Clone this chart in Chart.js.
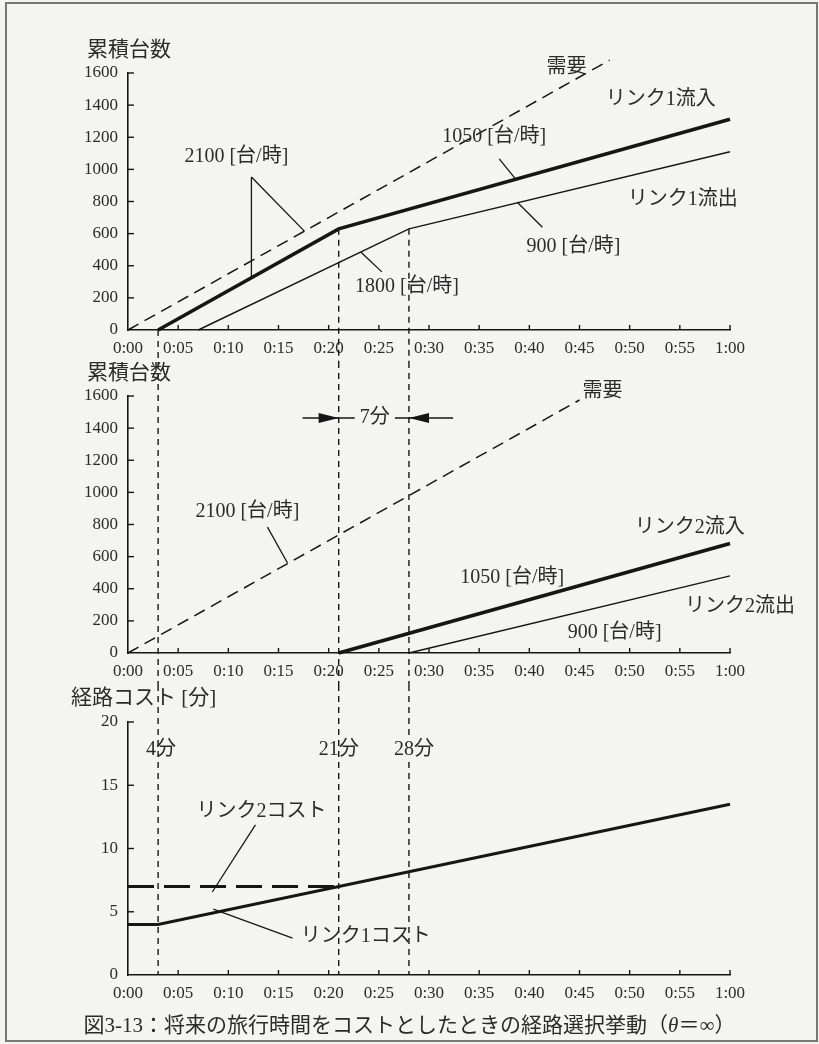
<!DOCTYPE html>
<html lang="ja">
<head>
<meta charset="utf-8">
<title>経路選択挙動</title>
<script src="https://cdn.jsdelivr.net/npm/chart.js@4/dist/chart.umd.min.js"></script>
<style>
  html, body { margin: 0; padding: 0; background: #f4f4f3; }
  #wrap { position: relative; width: 819px; height: 1044px; overflow: hidden; }
  #frame { position: absolute; left: 5px; top: 2px; width: 813px; height: 1040px;
           border: 2px solid #777; box-sizing: border-box; }
  .pane { position: absolute; left: 0; width: 819px; }
  .pane canvas { display: block; }
  #caption { position: absolute; left: 0; top: 1012px; width: 819px; text-align: center;
             font: 21px "Liberation Serif", "Noto Sans CJK JP", serif; line-height: 26px; color: #2b2b2b; }
</style>
</head>
<body>
<div id="wrap">
  <div id="frame"></div>
  <div class="pane" style="top:0px;height:362px"><canvas id="c1" width="819" height="362"></canvas></div>
  <div class="pane" style="top:362px;height:323px"><canvas id="c2" width="819" height="323"></canvas></div>
  <div class="pane" style="top:685px;height:359px"><canvas id="c3" width="819" height="359"></canvas></div>
  <div id="caption">図3-13：将来の旅行時間をコストとしたときの経路選択挙動（<i>θ</i>＝∞）</div>
</div>
<script>
// ---- data (time in minutes after 0:00) ----
const timeTicks = [0, 5, 10, 15, 20, 25, 30, 35, 40, 45, 50, 55, 60];

// upper panel: link 1 cumulative counts
const demandTimes1 = [0, 48];
const demandCounts1 = [0, 1680];
const link1InTimes = [3, 21, 60];
const link1InCounts = [0, 630, 1312];
const link1OutTimes = [7, 28, 60];
const link1OutCounts = [0, 630, 1110];

// middle panel: link 2 cumulative counts
const demandTimes2 = [0, 45];
const demandCounts2 = [0, 1575];
const link2InTimes = [21, 60];
const link2InCounts = [0, 682];
const link2OutTimes = [28, 60];
const link2OutCounts = [0, 480];

// lower panel: route costs [min]
const link1CostTimes = [0, 3, 60];
const link1CostValues = [4, 4, 13.5];
const link2CostTimes = [0, 21];
const link2CostValues = [7, 7];

// switching instants marked across the panels
const markerTimes = [3, 21, 28];
const markerStartCount = [null, 630, 630];

// ---- styling ----
const INK = '#161616';
const TEXT = '#2b2b2b';
const PAPER = '#f4f4f3';
const SERIF = '"Liberation Serif", "DejaVu Serif", serif';
const MIXED = '"Liberation Serif", "Noto Sans CJK JP", serif';

const pts = (ts, vs) => ts.map((t, i) => ({ x: t, y: vs[i] }));
const fmtTime = v => Math.floor(v / 60) + ':' + String(v % 60).padStart(2, '0');

function lineSet(ts, vs, width, dash) {
  return {
    data: pts(ts, vs),
    borderColor: INK,
    borderWidth: width,
    borderDash: dash || [],
    pointRadius: 0,
    tension: 0,
    fill: false,
    clip: 30,
    borderCapStyle: 'butt'
  };
}

// inward ticks, guides, leader lines and annotations
const overlay = {
  id: 'overlay',
  afterDatasetsDraw(chart, args, o) {
    const { ctx, chartArea: ca, scales: { x, y } } = chart;
    const H = chart.height;
    const px = t => x.getPixelForValue(t);
    const py = v => y.getPixelForValue(v);
    const seg = (x1, y1, x2, y2) => { ctx.beginPath(); ctx.moveTo(x1, y1); ctx.lineTo(x2, y2); ctx.stroke(); };
    ctx.save();
    ctx.strokeStyle = INK;
    ctx.lineWidth = 1.4;
    x.ticks.forEach(tk => {
      if (tk.value === x.min) return;
      const X = px(tk.value);
      seg(X, ca.bottom, X, ca.bottom - 5);
    });
    y.ticks.forEach(tk => {
      if (tk.value === y.min) return;
      const Y = py(tk.value);
      seg(ca.left, Y, ca.left + 6, Y);
    });

    // vertical guides at the switching instants
    ctx.setLineDash([6, 5]);
    ctx.lineWidth = 1.4;
    (o.guides || []).forEach(g => {
      const X = px(g.t);
      const y0 = g.from === 'top' ? 0 : g.from === 'axis' ? ca.bottom : py(g.from);
      const y1 = g.to === 'axis' ? ca.bottom : H;
      seg(X, y0, X, y1);
    });
    ctx.setLineDash([]);

    // leader lines
    ctx.lineWidth = 1.3;
    (o.leaders || []).forEach(s => seg(px(s[0]), py(s[1]), px(s[2]), py(s[3])));

    // dimension arrows
    (o.arrows || []).forEach(a => {
      const Y = py(a.v);
      ctx.lineWidth = 1.4;
      seg(px(a.t0), Y, px(a.t1), Y);
      const tip = px(a.tip), base = px(a.base);
      ctx.beginPath();
      ctx.moveTo(tip, Y);
      ctx.lineTo(base, Y - 5);
      ctx.lineTo(base, Y + 5);
      ctx.closePath();
      ctx.fillStyle = INK;
      ctx.fill();
    });

    // annotations
    ctx.textAlign = 'center';
    ctx.textBaseline = 'middle';
    ctx.font = '20px ' + MIXED;
    (o.labels || []).forEach(l => {
      const X = px(l.t), Y = py(l.v);
      if (l.clear) {
        const w = ctx.measureText(l.text).width;
        ctx.fillStyle = PAPER;
        ctx.fillRect(X - w / 2 - 1, Y - 11, w + 2, 22);
      }
      ctx.fillStyle = TEXT;
      ctx.fillText(l.text, X, Y);
    });

    // axis title above the value axis
    if (o.title) {
      ctx.fillStyle = TEXT;
      ctx.textAlign = 'left';
      ctx.font = '21px ' + MIXED;
      ctx.fillText(o.title.text, ca.left + o.title.dx, ca.top + o.title.dy);
    }
    ctx.restore();
  }
};

function makeChart(id, datasets, yMin, yMax, yStep, pad, overlayOpts) {
  return new Chart(document.getElementById(id), {
    type: 'line',
    data: { datasets },
    options: {
      responsive: false,
      animation: false,
      events: [],
      layout: { padding: pad },
      plugins: { legend: { display: false }, tooltip: { enabled: false }, overlay: overlayOpts },
      scales: {
        x: {
          type: 'linear', min: 0, max: 60,
          afterBuildTicks: s => { s.ticks = timeTicks.map(v => ({ value: v })); },
          ticks: { callback: v => fmtTime(v), font: { family: SERIF, size: 17 }, color: TEXT,
                   padding: 8, maxRotation: 0, autoSkip: false },
          grid: { drawOnChartArea: false, drawTicks: false },
          border: { display: true, color: INK, width: 1.6 },
          afterFit: s => { s.height = 32; }
        },
        y: {
          min: yMin, max: yMax,
          ticks: { stepSize: yStep, callback: v => String(v), font: { family: SERIF, size: 17 },
                   color: TEXT, padding: 10 },
          grid: { drawOnChartArea: false, drawTicks: false },
          border: { display: true, color: INK, width: 1.6 },
          afterFit: s => { s.width = 60; }
        }
      }
    },
    plugins: [overlay]
  });
}

// upper panel
makeChart('c1', [
  lineSet(demandTimes1, demandCounts1, 1.5, [12, 7]),
  lineSet(link1InTimes, link1InCounts, 3.6),
  lineSet(link1OutTimes, link1OutCounts, 1.4)
], 0, 1600, 200, { left: 68, right: 89, top: 73, bottom: 0 }, {
  title: { text: '累積台数', dx: -41, dy: -23 },
  guides: [
    { t: markerTimes[0], from: 'axis', to: 'bottom' },
    { t: markerTimes[1], from: markerStartCount[1], to: 'bottom' },
    { t: markerTimes[2], from: markerStartCount[2], to: 'bottom' }
  ],
  leaders: [
    [37.0, 1065, 38.6, 942],
    [41.3, 640, 38.8, 795],
    [12.3, 953, 12.3, 326],
    [12.3, 953, 17.6, 614],
    [23.2, 486, 25.3, 362]
  ],
  labels: [
    { text: '需要', t: 43.7, v: 1631 },
    { text: 'リンク1流入', t: 53.1, v: 1432 },
    { text: '1050 [台/時]', t: 36.5, v: 1202 },
    { text: 'リンク1流出', t: 55.3, v: 809 },
    { text: '900 [台/時]', t: 44.4, v: 517 },
    { text: '2100 [台/時]', t: 10.8, v: 1077 },
    { text: '1800 [台/時]', t: 27.8, v: 268 }
  ]
});

// middle panel
makeChart('c2', [
  lineSet(demandTimes2, demandCounts2, 1.5, [12, 7]),
  lineSet(link2InTimes, link2InCounts, 3.6),
  lineSet(link2OutTimes, link2OutCounts, 1.4)
], 0, 1600, 200, { left: 68, right: 89, top: 34, bottom: 0 }, {
  title: { text: '累積台数', dx: -41, dy: -23 },
  guides: markerTimes.map(t => ({ t, from: 'top', to: 'bottom' })),
  leaders: [[13.9, 784, 15.9, 560]],
  arrows: [
    { v: 1463, t0: 17.4, t1: 22.6, tip: 21, base: 19 },
    { v: 1463, t0: 26.6, t1: 32.4, tip: 28, base: 30 }
  ],
  labels: [
    { text: '需要', t: 47.3, v: 1625 },
    { text: '7分', t: 24.6, v: 1463 },
    { text: '2100 [台/時]', t: 11.9, v: 878 },
    { text: 'リンク2流入', t: 56.0, v: 778 },
    { text: '1050 [台/時]', t: 38.3, v: 467 },
    { text: 'リンク2流出', t: 61.0, v: 286 },
    { text: '900 [台/時]', t: 48.5, v: 125 }
  ]
});

// lower panel
makeChart('c3', [
  lineSet(link2CostTimes, link2CostValues, 3, [26, 10]),
  lineSet(link1CostTimes, link1CostValues, 3)
], 0, 20, 5, { left: 68, right: 89, top: 37, bottom: 37 }, {
  title: { text: '経路コスト [分]', dx: -57, dy: -24 },
  guides: markerTimes.map(t => ({ t, from: 'top', to: 'axis' })),
  leaders: [
    [12.7, 11.86, 8.4, 6.56],
    [16.4, 2.92, 8.5, 5.2]
  ],
  labels: [
    { text: '4分', t: 3.3, v: 17.8 },
    { text: '21分', t: 21.0, v: 17.8 },
    { text: '28分', t: 28.5, v: 17.8, clear: true },
    { text: 'リンク2コスト', t: 13.3, v: 12.9 },
    { text: 'リンク1コスト', t: 23.7, v: 3.0 }
  ]
});
</script>
</body>
</html>
